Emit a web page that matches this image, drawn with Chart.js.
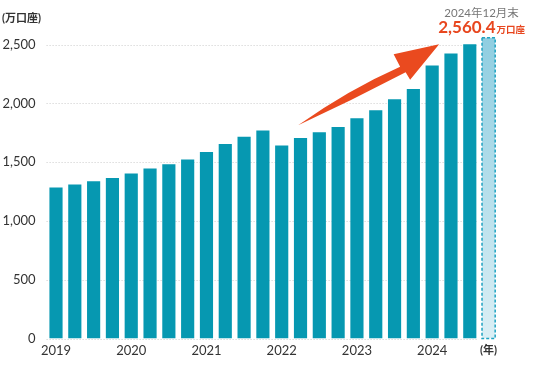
<!DOCTYPE html>
<html>
<head>
<meta charset="utf-8">
<script src="https://cdn.jsdelivr.net/npm/chart.js@4"></script>
<style>
  html, body { margin: 0; padding: 0; background: #fff; }
  #wrap { width: 536px; height: 370px; position: relative; }
</style>
</head>
<body>
<div id="wrap"><canvas id="chart"></canvas></div>
<script>
// 四半期末ごとの口座数（万口座）
const quarters = [
  '2019/03', '2019/06', '2019/09', '2019/12',
  '2020/03', '2020/06', '2020/09', '2020/12',
  '2021/03', '2021/06', '2021/09', '2021/12',
  '2022/03', '2022/06', '2022/09', '2022/12',
  '2023/03', '2023/06', '2023/09', '2023/12',
  '2024/03', '2024/06', '2024/09', '2024/12'
];
const accounts = [
  1286, 1311, 1339, 1365,
  1405, 1447, 1484, 1524,
  1588, 1656, 1716, 1770,
  1643, 1707, 1756, 1801,
  1875, 1943, 2037, 2124,
  2323, 2425, 2504
];
const latestValue = 2560.4;
const latestLabel = '2024年12月末';
const latestText = '2,560.4';
const yTicks = [0, 500, 1000, 1500, 2000, 2500];
const unitLabel = '(万口座)';
const yearUnitLabel = '(年)';

const last = quarters.length - 1;
const FONT = 'Lato, "Noto Sans CJK JP", sans-serif';

Chart.defaults.font.family = FONT;
Chart.defaults.color = '#333';

// 点線の目盛線（最新の棒の手前まで）
const dottedGrid = {
  id: 'dottedGrid',
  beforeDatasetsDraw(chart) {
    const { ctx, chartArea, scales: { x, y } } = chart;
    const right = x.getPixelForValue(last - 1) + 8;
    ctx.save();
    ctx.strokeStyle = '#cccccc';
    ctx.lineWidth = 1;
    ctx.setLineDash([1, 2]);
    yTicks.forEach(v => {
      const py = Math.round(y.getPixelForValue(v)) + 0.5;
      ctx.beginPath();
      ctx.moveTo(chartArea.left, py);
      ctx.lineTo(right, py);
      ctx.stroke();
    });
    ctx.restore();
  }
};

// 最新の棒の点線枠・矢印・注記
const decorations = {
  id: 'decorations',
  afterDatasetsDraw(chart) {
    const { ctx, scales: { x, y } } = chart;
    const el = chart.getDatasetMeta(0).data[last];
    const p = el.getProps(['x', 'y', 'width', 'base'], true);

    ctx.save();
    ctx.strokeStyle = '#1fa3c2';
    ctx.lineWidth = 1.5;
    ctx.setLineDash([3, 2]);
    ctx.strokeRect(p.x - p.width / 2, p.y, p.width, p.base - p.y);
    ctx.restore();

    // 矢印
    const tx = x.getPixelForValue(20.37);
    const ty = y.getPixelForValue(2504);
    ctx.save();
    ctx.fillStyle = '#ea4a1f';
    ctx.beginPath();
    ctx.moveTo(tx - 141, ty + 81);
    ctx.quadraticCurveTo(tx - 90, ty + 45, tx - 39, ty + 22.5);
    ctx.lineTo(tx - 45.5, ty + 10);
    ctx.lineTo(tx, ty);
    ctx.lineTo(tx - 29, ty + 35.5);
    ctx.lineTo(tx - 33.5, ty + 28);
    ctx.quadraticCurveTo(tx - 87, ty + 56, tx - 141, ty + 81);
    ctx.closePath();
    ctx.fill();
    ctx.restore();
  },
  afterDraw(chart) {
    const { ctx, scales: { x } } = chart;
    const cx = x.getPixelForValue(last) - 7;
    ctx.save();
    ctx.textBaseline = 'alphabetic';

    ctx.fillStyle = '#777';
    ctx.font = '11.5px ' + FONT;
    ctx.textAlign = 'center';
    ctx.fillText(latestLabel, cx, 17);

    ctx.textAlign = 'left';
    ctx.font = 'bold 17px ' + FONT;
    const w1 = ctx.measureText(latestText).width;
    ctx.font = 'bold 9.5px ' + FONT;
    const w2 = ctx.measureText('万口座').width;
    const left = cx - (w1 + w2 + 1) / 2;
    ctx.fillStyle = '#e8461e';
    ctx.font = 'bold 17px ' + FONT;
    ctx.fillText(latestText, left, 33);
    ctx.font = 'bold 9.5px ' + FONT;
    ctx.fillText('万口座', left + w1 + 1, 33);

    ctx.fillStyle = '#333';
    ctx.font = 'bold 11px ' + FONT;
    ctx.textBaseline = 'middle';
    ctx.fillText(unitLabel, 2, 18);
    ctx.restore();
  }
};

new Chart(document.getElementById('chart'), {
  type: 'bar',
  data: {
    labels: quarters,
    datasets: [{
      data: [...accounts, latestValue],
      backgroundColor: c => {
        if (c.dataIndex !== last) return '#0698b1';
        const area = c.chart.chartArea;
        if (!area) return '#a9d9e8';
        const g = c.chart.ctx.createLinearGradient(0, area.top, 0, area.bottom);
        g.addColorStop(0, '#8ecde0');
        g.addColorStop(1, '#dbeff5');
        return g;
      },
      borderWidth: 0,
      categoryPercentage: 1,
      barPercentage: 0.7
    }]
  },
  options: {
    responsive: true,
    maintainAspectRatio: false,
    animation: false,
    layout: { padding: { top: 33, right: 38, left: 0, bottom: 0 } },
    plugins: {
      legend: { display: false },
      tooltip: { enabled: false }
    },
    scales: {
      x: {
        grid: { display: false, drawTicks: false },
        border: { display: false },
        afterFit: s => { s.height = 31.5; },
        ticks: {
          autoSkip: false,
          maxRotation: 0,
          padding: 5,
          color: '#333',
          font: c => c.index === last ? { size: 11, weight: 'bold' } : { size: 13 },
          callback: (v, i) => {
            if (i === last) return yearUnitLabel;
            const q = quarters[i];
            return q.endsWith('/03') ? q.slice(0, 4) : '';
          }
        }
      },
      y: {
        min: 0,
        max: 2600,
        grid: { display: false, drawTicks: false },
        border: { display: false },
        afterFit: s => { s.width = 46.6; },
        afterBuildTicks: s => { s.ticks = yTicks.map(v => ({ value: v })); },
        ticks: {
          padding: 11,
          color: '#333',
          font: { size: 13 },
          callback: v => v.toLocaleString('en-US')
        }
      }
    }
  },
  plugins: [dottedGrid, decorations]
});
</script>
</body>
</html>
